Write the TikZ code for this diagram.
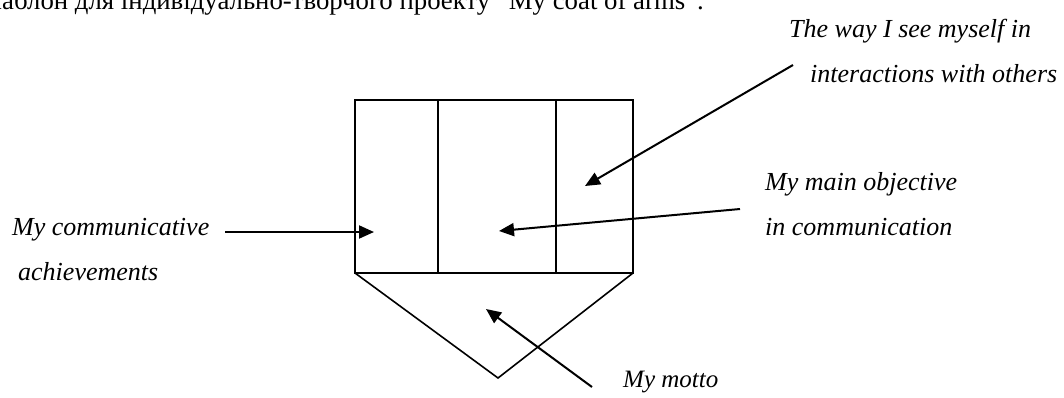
\documentclass[tikz,border=0pt]{standalone}
\usepackage{fontspec}
\setmainfont{Liberation Serif}
\usetikzlibrary{arrows.meta}
\begin{document}
\begin{tikzpicture}[x=1pt,y=-1pt,
  lbl/.style={font=\fontsize{26}{30}\selectfont\itshape,inner sep=0pt,anchor=base west},
  shield/.style={line width=1.6pt,line join=miter},
  ptr/.style={line width=2pt,-{Triangle[length=15pt,width=13pt]}}]
\useasboundingbox (0,0) rectangle (1064,397);
\begin{scope}
\clip (0,0) rectangle (1064,397);
\node[font=\fontsize{26.8}{30}\selectfont,inner sep=0pt,anchor=base west] (title) at (-25,9) {Шаблон для індивідуально-творчого проекту "My coat of arms".};
\end{scope}
% shield
\coordinate (tl) at (355,100);
\coordinate (tr) at (633,100);
\coordinate (bl) at (355,273);
\coordinate (br) at (633,273);
\coordinate (apex) at (498,378);
\coordinate (d1t) at (438,100);
\coordinate (d1b) at (438,273);
\coordinate (d2t) at (556,100);
\coordinate (d2b) at (556,273);
\draw[shield] (tl) rectangle (br);
\draw[shield] (d1t) -- (d1b);
\draw[shield] (d2t) -- (d2b);
\draw[shield] (bl) -- (apex) -- (br);
% labels
\node[lbl] (way1) at (789,37) {The way I see myself in};
\node[lbl] (way2) at (810,82) {interactions with others};
\node[lbl] (obj1) at (765,190) {My main objective};
\node[lbl] (obj2) at (765,235) {in communication};
\node[lbl] (ach1) at (12,235) {My communicative};
\node[lbl] (ach2) at (18,280) {achievements};
\node[lbl,font=\fontsize{25}{29}\selectfont\itshape] (motto) at (623,387) {My motto};
% arrow ends
\coordinate (s1) at (225,232);
\coordinate (t1) at (374,232);
\coordinate (s2) at (740,209);
\coordinate (t2) at (499,231);
\coordinate (s3) at (793,65);
\coordinate (t3) at (585,186);
\coordinate (s4) at (592,387);
\coordinate (t4) at (486,309);
\draw[ptr] (s1) -- (t1);
\draw[ptr] (s2) -- (t2);
\draw[ptr] (s3) -- (t3);
\draw[ptr] (s4) -- (t4);
\end{tikzpicture}
\end{document}
